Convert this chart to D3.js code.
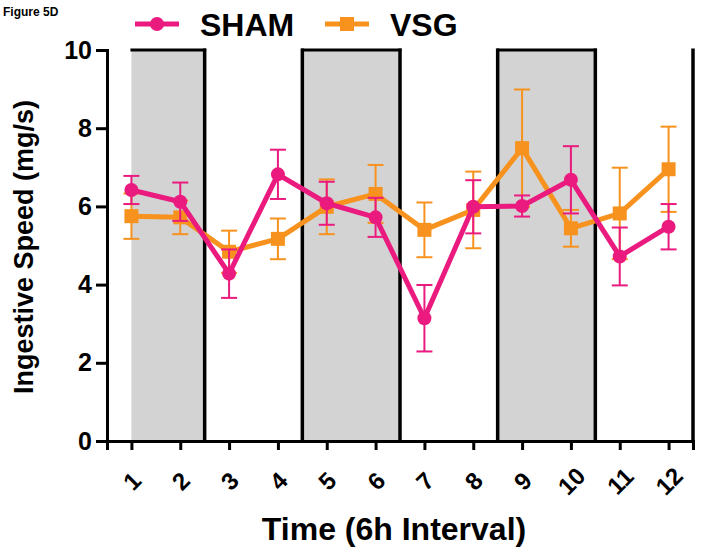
<!DOCTYPE html>
<html><head><meta charset="utf-8">
<script src="https://cdn.jsdelivr.net/npm/d3@7"></script>
<style>body{margin:0;background:#fff}svg{display:block}text{font-family:"Liberation Sans",Arial,sans-serif;font-weight:bold}</style>
</head><body><svg id="c" width="708" height="555"></svg>
<script>
const intervals = [1,2,3,4,5,6,7,8,9,10,11,12];
const shamMean = [6.42,6.12,4.28,6.82,6.08,5.72,3.14,5.99,6.01,6.68,4.72,5.48];
const shamSE   = [0.36,0.49,0.62,0.63,0.55,0.50,0.85,0.68,0.27,0.86,0.74,0.58];
const vsgMean  = [5.75,5.72,4.84,5.17,5.99,6.32,5.40,5.91,7.49,5.44,5.82,6.95];
const vsgSE    = [0.58,0.43,0.54,0.52,0.70,0.74,0.70,0.98,1.50,0.47,1.17,1.09];
const yTicks = [0,2,4,6,8,10];
const darkBoxes = [[1,2.5],[4.5,6.5],[8.5,10.5]];
const borderLines = [2.5,4.5,6.5,8.5,10.5,12.5];
const seriesNames = ["SHAM","VSG"];

const svg = d3.select("#c");
const x = d3.scaleLinear().domain([0.5,12.5]).range([107,693]);
const y = d3.scaleLinear().domain([0,10]).range([441,50]);
const PINK = "#ea1a7f", ORANGE = "#f7921e";

svg.append("text").attr("x",3).attr("y",16).attr("font-size",12).text("Figure 5D");

// shaded boxes
svg.selectAll("rect.box").data(darkBoxes).join("rect").attr("class","box")
  .attr("x",d=>x(d[0])).attr("y",y(10)).attr("width",d=>x(d[1])-x(d[0])).attr("height",y(0)-y(10))
  .attr("fill","#d3d3d3");
svg.selectAll("line.top").data(darkBoxes).join("line").attr("class","top")
  .attr("x1",d=>x(d[0])-1).attr("x2",d=>x(d[1])+1.5).attr("y1",y(10)).attr("y2",y(10))
  .attr("stroke","#000").attr("stroke-width",3);
svg.selectAll("line.vb").data(borderLines).join("line").attr("class","vb")
  .attr("x1",d=>x(d)).attr("x2",d=>x(d)).attr("y1",y(10)-1.5).attr("y2",y(0))
  .attr("stroke","#000").attr("stroke-width",3.5);

// axes
const yAx = svg.append("g").attr("transform",`translate(${x(0.5)},0)`)
  .call(d3.axisLeft(y).tickValues(yTicks).tickSize(11).tickPadding(4));
yAx.select(".domain").attr("stroke","#000").attr("stroke-width",3);
yAx.selectAll(".tick line").attr("stroke-width",3);
yAx.selectAll(".tick text").attr("font-size",25).attr("font-family","Liberation Sans, Arial").attr("font-weight","bold").attr("fill","#000");

const xAx = svg.append("g").attr("transform",`translate(0,${y(0)})`)
  .call(d3.axisBottom(x).tickValues(intervals).tickSize(9).tickFormat(d3.format("d")));
xAx.select(".domain").attr("stroke","#000").attr("stroke-width",3);
xAx.selectAll(".tick line").attr("stroke-width",3);
xAx.selectAll(".tick text").attr("font-size",24).attr("font-family","Liberation Sans, Arial").attr("font-weight","bold").attr("fill","#000")
  .attr("text-anchor","middle").attr("dy",null).attr("y",null)
  .attr("dominant-baseline","central")
  .attr("transform","translate(0,40) rotate(-45)");

svg.append("text").attr("x",394).attr("y",540).attr("text-anchor","middle").attr("font-size",32).text("Time (6h Interval)");
svg.append("text").attr("transform","translate(33,247) rotate(-90)").attr("text-anchor","middle").attr("font-size",27).text("Ingestive Speed (mg/s)");

function drawSeries(mean, se, color, shape){
  const pts = intervals.map((t,i)=>({t, m:mean[i], s:se[i]}));
  const g = svg.append("g");
  g.selectAll("line.eb").data(pts).join("line")
    .attr("x1",d=>x(d.t)).attr("x2",d=>x(d.t)).attr("y1",d=>y(d.m+d.s)).attr("y2",d=>y(d.m-d.s))
    .attr("stroke",color).attr("stroke-width",2);
  [1,-1].forEach(sg=>{
    g.selectAll(null).data(pts).join("line")
      .attr("x1",d=>x(d.t)-8).attr("x2",d=>x(d.t)+8).attr("y1",d=>y(d.m+sg*d.s)).attr("y2",d=>y(d.m+sg*d.s))
      .attr("stroke",color).attr("stroke-width",2);
  });
  g.append("path").datum(pts).attr("d",d3.line().x(d=>x(d.t)).y(d=>y(d.m)))
    .attr("fill","none").attr("stroke",color).attr("stroke-width",5).attr("stroke-linejoin","round");
  if(shape==="circle"){
    g.selectAll("circle").data(pts).join("circle").attr("cx",d=>x(d.t)).attr("cy",d=>y(d.m)).attr("r",7).attr("fill",color);
  } else {
    g.selectAll("rect").data(pts).join("rect").attr("x",d=>x(d.t)-7).attr("y",d=>y(d.m)-7).attr("width",14).attr("height",14).attr("fill",color);
  }
}
drawSeries(vsgMean, vsgSE, ORANGE, "square");
drawSeries(shamMean, shamSE, PINK, "circle");

// legend
const leg = [{n:seriesNames[0],c:PINK,s:"circle",lx:135,tx:200},{n:seriesNames[1],c:ORANGE,s:"square",lx:325,tx:390}];
leg.forEach(l=>{
  svg.append("line").attr("x1",l.lx).attr("x2",l.lx+44).attr("y1",24).attr("y2",24).attr("stroke",l.c).attr("stroke-width",5);
  if(l.s==="circle") svg.append("circle").attr("cx",l.lx+22).attr("cy",24).attr("r",7).attr("fill",l.c);
  else svg.append("rect").attr("x",l.lx+15).attr("y",17).attr("width",14).attr("height",14).attr("fill",l.c);
  svg.append("text").attr("x",l.tx).attr("y",36).attr("font-size",32).text(l.n);
});
</script></body></html>
